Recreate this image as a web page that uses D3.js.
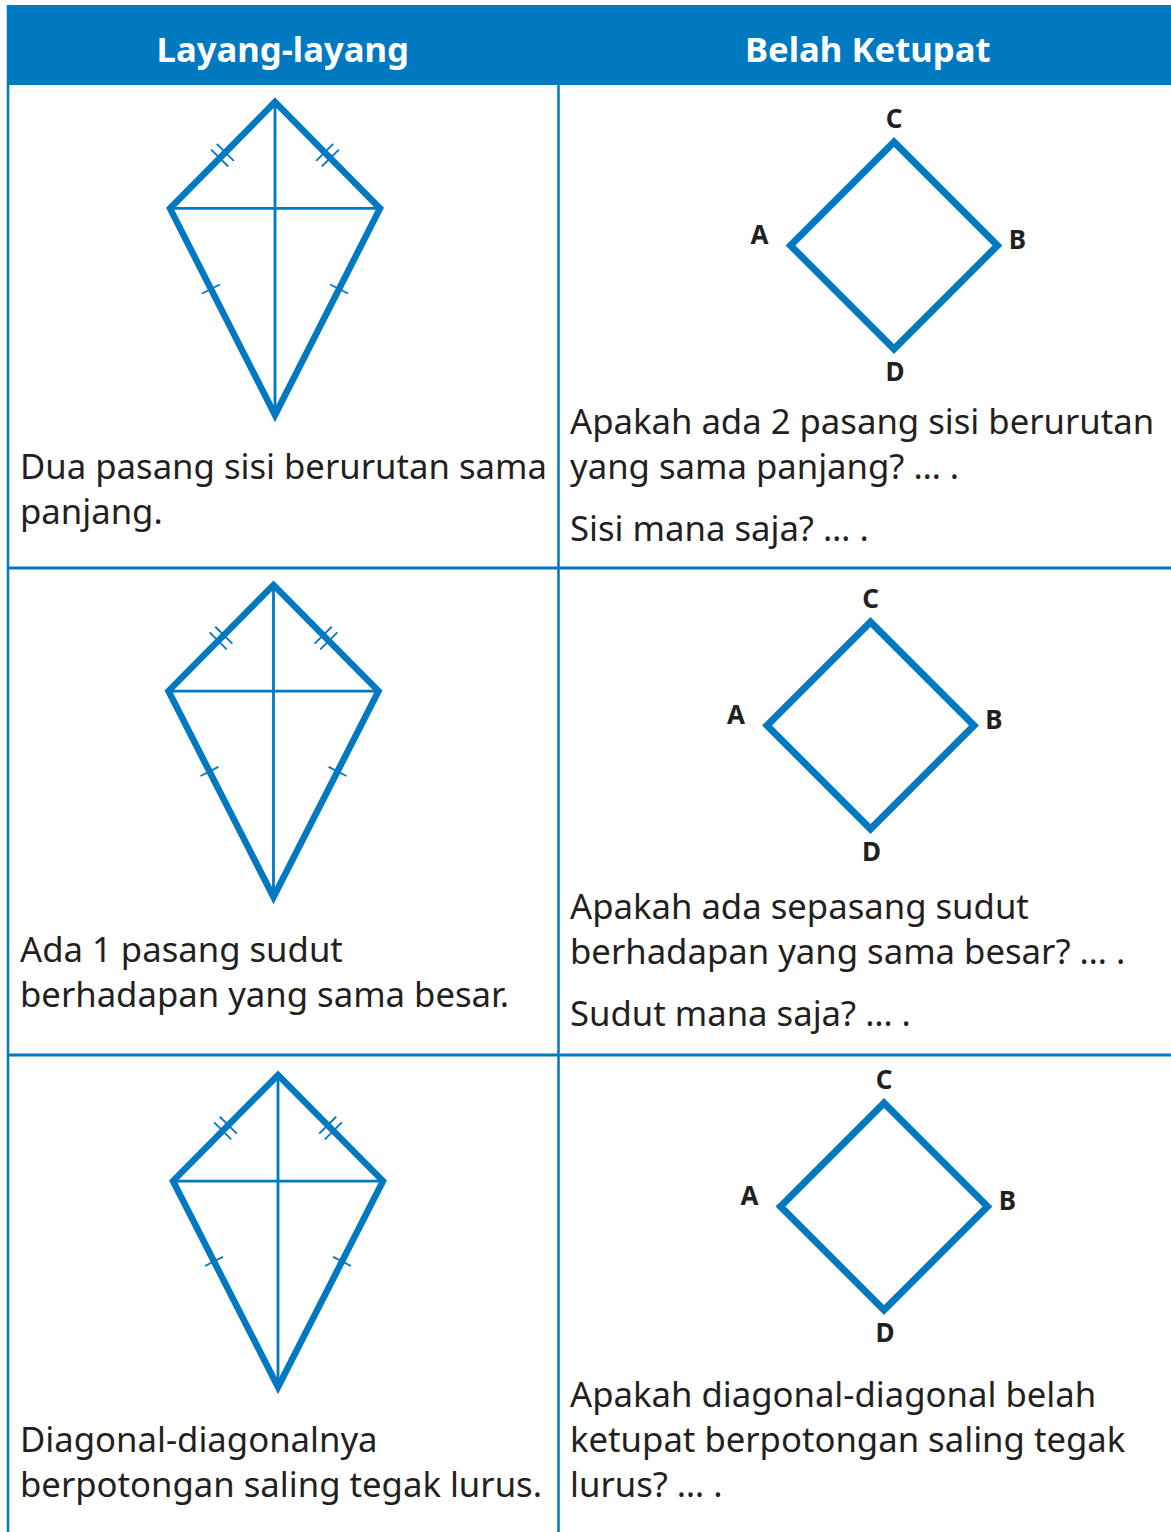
<!DOCTYPE html>
<html>
<head>
<meta charset="utf-8">
<script src="https://cdn.jsdelivr.net/npm/d3@7"></script>
<style>
  html, body { margin: 0; padding: 0; background: #fff; }
  svg { display: block; }
</style>
</head>
<body>
<script>
// ---------- data ----------
const headers = ["Layang-layang", "Belah Ketupat"];
const kiteNotes = [
  ["Dua pasang sisi berurutan sama", "panjang."],
  ["Ada 1 pasang sudut", "berhadapan yang sama besar."],
  ["Diagonal-diagonalnya", "berpotongan saling tegak lurus."]
];
const questionMain = [
  ["Apakah ada 2 pasang sisi berurutan", "yang sama panjang? … ."],
  ["Apakah ada sepasang sudut", "berhadapan yang sama besar? … ."],
  ["Apakah diagonal-diagonal belah", "ketupat berpotongan saling tegak", "lurus? … ."]
];
const questionFollow = ["Sisi mana saja? … .", "Sudut mana saja? … .", ""];
const vertexLabels = ["A", "B", "C", "D"];
// kite shape in unit coords (top, right, bottom, left)
const kiteShape = [[0, 0], [1, 0.34], [0, 1], [-1, 0.34]];
// rhombus shape in unit coords (A, C, B, D order around)
const rhombusShape = [[-1, 0], [0, -1], [1, 0], [0, 1]];

// ---------- layout ----------
const W = 1171, H = 1532;
const blue = "#0079c1", ink = "#231f20";
const font = "'Noto Sans', 'Open Sans', sans-serif";
const bodySize = 34.7;
const headerTop = 5, headerBottom = 85;
const colX = [7, 558.5, 1171];
const rowTops = [85, 568, 1055, H];
const kiteLayout = [
  {cx: 275, top: 102, bottom: 415, hw: 105},
  {cx: 273.5, top: 585, bottom: 897, hw: 105},
  {cx: 278, top: 1075, bottom: 1387, hw: 105}
];
const rhombLayout = [
  {cx: 894, cy: 245.5, r: 103.5},
  {cx: 870.5, cy: 725.5, r: 103.5},
  {cx: 884, cy: 1206.5, r: 103.5}
];
const noteBase = [479, 962, 1452];
const qBase = [434, 919, 1407];
const followGap = [62, 62, 0];
const lineH = 45;

const svg = d3.select("body").append("svg").attr("width", W).attr("height", H);

// header
svg.append("rect").attr("x", colX[0]).attr("y", headerTop)
  .attr("width", W - colX[0]).attr("height", headerBottom - headerTop).attr("fill", blue);
svg.selectAll("text.hdr").data(headers).join("text").attr("class", "hdr")
  .attr("x", (d, i) => (colX[i] + colX[i + 1]) / 2 + (i === 0 ? 0 : 3))
  .attr("y", 62).attr("text-anchor", "middle")
  .attr("fill", "#fff").attr("font-family", font).attr("font-weight", 700)
  .attr("font-size", 34.7).text(d => d);

// grid lines
const grid = svg.append("g").attr("stroke", blue).attr("fill", "none");
grid.append("line").attr("x1", colX[0] + 1).attr("x2", colX[0] + 1)
  .attr("y1", headerTop).attr("y2", H).attr("stroke-width", 2.5);
grid.append("line").attr("x1", colX[1]).attr("x2", colX[1])
  .attr("y1", headerTop).attr("y2", H).attr("stroke-width", 2.5);
grid.selectAll("line.row").data(rowTops.slice(1, 3)).join("line").attr("class", "row")
  .attr("x1", colX[0]).attr("x2", W).attr("y1", d => d).attr("y2", d => d)
  .attr("stroke-width", 3);

const line = d3.line();

// kites
kiteLayout.forEach((k, i) => {
  const sx = d3.scaleLinear().domain([-1, 1]).range([k.cx - k.hw, k.cx + k.hw]);
  const sy = d3.scaleLinear().domain([0, 1]).range([k.top, k.bottom]);
  const pts = kiteShape.map(p => [sx(p[0]), sy(p[1])]);
  const g = svg.append("g");
  // diagonals
  g.append("path").attr("d", line([pts[0], pts[2]])).attr("stroke", blue).attr("stroke-width", 2.8);
  g.append("path").attr("d", line([pts[3], pts[1]])).attr("stroke", blue).attr("stroke-width", 2.8);
  // outline
  g.append("path").attr("d", line(pts) + "Z").attr("fill", "none").attr("stroke", blue)
    .attr("stroke-width", 6.5).attr("stroke-linejoin", "miter").attr("stroke-miterlimit", 10);
  // tick marks
  const ticks = [];
  function tickAt(a, b, t, offsets, half) {
    const px = a[0] + (b[0] - a[0]) * t, py = a[1] + (b[1] - a[1]) * t;
    const len = Math.hypot(b[0] - a[0], b[1] - a[1]);
    const ux = (b[0] - a[0]) / len, uy = (b[1] - a[1]) / len;
    const nx = -uy, ny = ux;
    offsets.forEach(o => {
      const cx = px + ux * o, cy = py + uy * o;
      ticks.push([[cx - nx * half, cy - ny * half], [cx + nx * half, cy + ny * half]]);
    });
  }
  tickAt(pts[3], pts[0], 0.5, [-4, 4], 12);
  tickAt(pts[1], pts[0], 0.5, [-4, 4], 12);
  tickAt(pts[3], pts[2], 0.39, [0], 10);
  tickAt(pts[1], pts[2], 0.39, [0], 10);
  g.selectAll("path.tick").data(ticks).join("path").attr("class", "tick")
    .attr("d", d => line(d)).attr("stroke", blue).attr("stroke-width", 1.8);
});

// rhombuses
rhombLayout.forEach((r, i) => {
  const sx = d3.scaleLinear().domain([-1, 1]).range([r.cx - r.r, r.cx + r.r]);
  const sy = d3.scaleLinear().domain([-1, 1]).range([r.cy - r.r, r.cy + r.r]);
  const pts = rhombusShape.map(p => [sx(p[0]), sy(p[1])]);
  svg.append("path").attr("d", line(pts) + "Z").attr("fill", "none").attr("stroke", blue)
    .attr("stroke-width", 7).attr("stroke-linejoin", "miter");
  const labelPos = {
    A: [sx(-1) - 31, r.cy - 1.5],
    B: [sx(1) + 20, r.cy + 3],
    C: [r.cx, sy(-1) - 14],
    D: [r.cx + 1, sy(1) + 32]
  };
  svg.selectAll(null).data(vertexLabels).join("text")
    .attr("x", d => labelPos[d][0]).attr("y", d => labelPos[d][1])
    .attr("text-anchor", "middle").attr("fill", ink)
    .attr("font-family", font).attr("font-weight", 700).attr("font-size", 26)
    .text(d => d);
});

// notes (left)
kiteNotes.forEach((lines, i) => {
  svg.append("text").attr("font-family", font).attr("font-size", bodySize).attr("fill", ink)
    .selectAll("tspan").data(lines).join("tspan")
    .attr("x", 20).attr("y", (d, j) => noteBase[i] + j * lineH).text(d => d);
});

// questions (right)
questionMain.forEach((lines, i) => {
  svg.append("text").attr("font-family", font).attr("font-size", bodySize).attr("fill", ink)
    .selectAll("tspan").data(lines).join("tspan")
    .attr("x", 570).attr("y", (d, j) => qBase[i] + j * lineH).text(d => d);
  if (questionFollow[i]) {
    svg.append("text").attr("font-family", font).attr("font-size", bodySize).attr("fill", ink)
      .attr("x", 570).attr("y", qBase[i] + lineH + followGap[i]).text(questionFollow[i]);
  }
});
</script>
</body>
</html>
